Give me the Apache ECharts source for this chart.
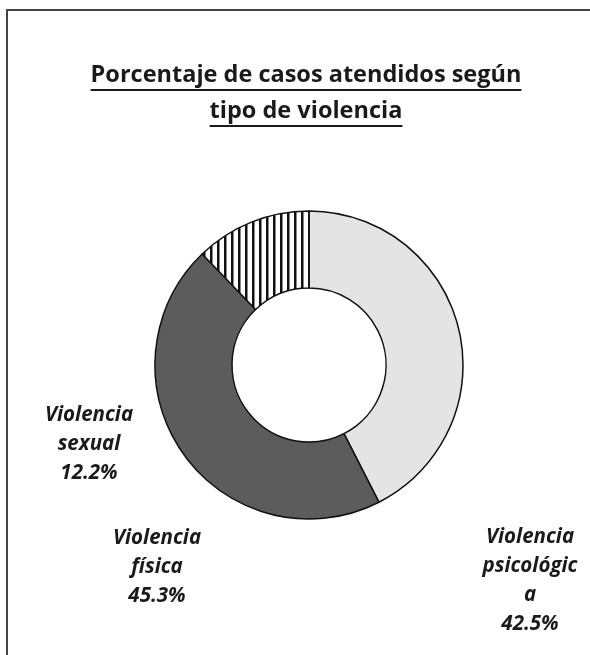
<!DOCTYPE html>
<html>
<head>
<meta charset="utf-8">
<script src="https://cdn.jsdelivr.net/npm/echarts@6/dist/echarts.min.js"></script>
<style>
html,body{margin:0;padding:0;background:#fff;}
#chart{width:590px;height:655px;}
</style>
</head>
<body>
<div id="chart"></div>
<script>
const titleLines = ['Porcentaje de casos atendidos según', 'tipo de violencia'];
const categories = ['Violencia psicológica', 'Violencia física', 'Violencia sexual'];
const values = [42.5, 45.3, 12.2];
const labelTexts = ['Violencia\npsicológic\na', 'Violencia\nfísica', 'Violencia\nsexual'];

// label anchor positions (centre of label block)
const labelPos = [[530, 581], [157, 567], [89, 444]];

const chart = echarts.init(document.getElementById('chart'), null, {renderer: 'canvas'});

// vertical stripe pattern
const pc = document.createElement('canvas');
pc.width = 7; pc.height = 8;
const pctx = pc.getContext('2d');
pctx.fillStyle = '#ffffff';
pctx.fillRect(0, 0, 7, 8);
pctx.fillStyle = '#111111';
pctx.fillRect(0, 0, 2.5, 8);

const sliceColors = ['#e4e4e4', '#5c5c5c', {image: pc, repeat: 'repeat'}];

const titleFont = 'bold 23.5px "Open Sans"';
const mc = document.createElement('canvas').getContext('2d');
mc.font = titleFont;
const cx = 306;
const baselines = [87, 123];
const graphics = [{
  type: 'rect', shape: {x: 7, y: 10, width: 700, height: 700},
  style: {fill: 'none', stroke: '#444', lineWidth: 2}, silent: true
}];
titleLines.forEach((t, i) => {
  const w = mc.measureText(t).width;
  graphics.push({
    type: 'text', x: cx, y: baselines[i],
    style: {text: t, font: titleFont, fill: '#1a1a1a', textAlign: 'center', textVerticalAlign: 'bottom'}
  });
  graphics.push({
    type: 'line', shape: {x1: cx - w / 2, y1: baselines[i] + 3, x2: cx + w / 2, y2: baselines[i] + 3},
    style: {stroke: '#1a1a1a', lineWidth: 2}
  });
});

chart.setOption({
  animation: false,
  graphic: graphics,
  series: [{
    type: 'pie',
    center: [309, 365],
    radius: [77, 154],
    startAngle: 90,
    clockwise: true,
    avoidLabelOverlap: false,
    data: categories.map((c, i) => ({
      name: c, value: values[i],
      itemStyle: {color: sliceColors[i]}
    })),
    itemStyle: {borderColor: '#111', borderWidth: 1.5},
    label: {
      show: true,
      position: 'outside',
      formatter: p => labelTexts[p.dataIndex] + '\n' + p.value.toFixed(1) + '%',
      fontFamily: 'Open Sans',
      fontStyle: 'italic',
      fontWeight: 'bold',
      fontSize: 20.5,
      lineHeight: 29,
      color: '#1a1a1a',
      align: 'center'
    },
    labelLine: {show: false},
    labelLayout: p => ({
      x: labelPos[p.dataIndex][0],
      y: labelPos[p.dataIndex][1],
      align: 'center',
      verticalAlign: 'middle'
    }),
    emphasis: {disabled: true}
  }]
});
</script>
</body>
</html>
